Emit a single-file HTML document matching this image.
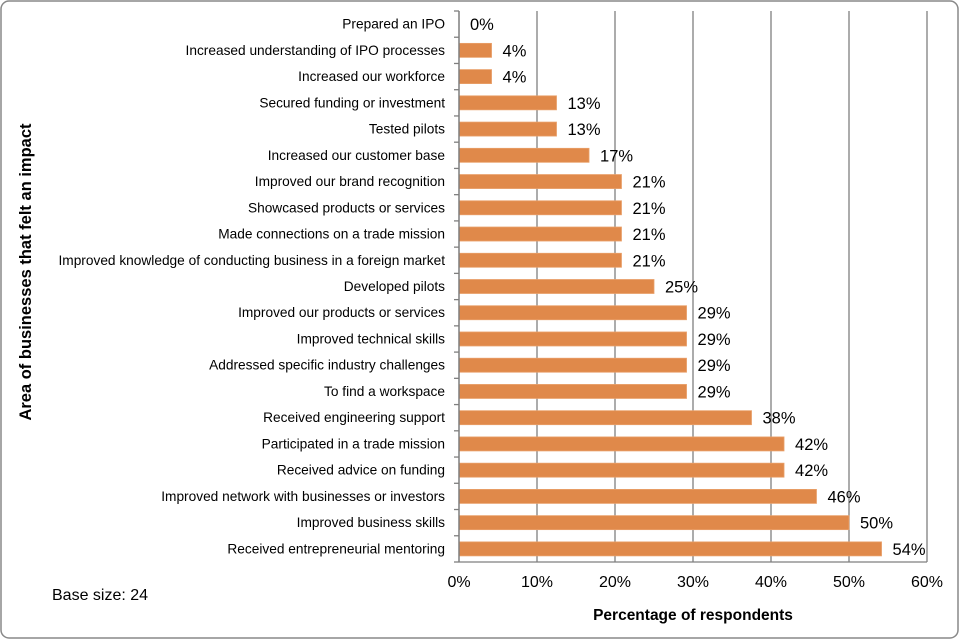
<!DOCTYPE html>
<html><head><meta charset="utf-8"><style>
html,body{margin:0;padding:0;background:#fff;}
svg{display:block;font-family:"Liberation Sans",sans-serif;}
</style></head><body>
<svg id="chart" width="960" height="640">
<rect x="1" y="1" width="957" height="637" rx="8" fill="#fff" stroke="#888" stroke-width="1.5"/>
<g id="grid"></g><g id="bars"></g><g id="labels"></g><g id="axes"></g>
<text x="31" y="272" transform="rotate(-90 31 272)" text-anchor="middle" font-size="16.5" font-weight="bold" fill="#000">Area of businesses that felt an impact</text>
<text x="693" y="620" text-anchor="middle" font-size="15.5" font-weight="bold" fill="#000">Percentage of respondents</text>
<text x="52" y="600" font-size="16" fill="#000">Base size: 24</text>
</svg>
<script>
const categories=["Prepared an IPO","Increased understanding of IPO processes","Increased our workforce","Secured funding or investment","Tested pilots","Increased our customer base","Improved our brand recognition","Showcased products or services","Made connections on a trade mission","Improved knowledge of conducting business in a foreign market","Developed pilots","Improved our products or services","Improved technical skills","Addressed specific industry challenges","To find a workspace","Received engineering support","Participated in a trade mission","Received advice on funding","Improved network with businesses or investors","Improved business skills","Received entrepreneurial mentoring"];
const values=[0,4.17,4.17,12.5,12.5,16.67,20.83,20.83,20.83,20.83,25,29.17,29.17,29.17,29.17,37.5,41.67,41.67,45.83,50,54.17];
const valueLabels=["0%","4%","4%","13%","13%","17%","21%","21%","21%","21%","25%","29%","29%","29%","29%","38%","42%","42%","46%","50%","54%"];
const xTicks=[0,10,20,30,40,50,60];
const xTickLabels=["0%","10%","20%","30%","40%","50%","60%"];
const NS="http://www.w3.org/2000/svg";
const X0=459,X1=927,T=11,B=562,xMax=60;
const x=v=>X0+(v/xMax)*(X1-X0);
const band=(B-T)/categories.length;
const y=i=>T+band*i;
function mk(tag,attrs,parent,text){const e=document.createElementNS(NS,tag);for(const k in attrs)e.setAttribute(k,attrs[k]);if(text!==undefined)e.textContent=text;parent.appendChild(e);return e;}
const g=document.getElementById('grid'),bg=document.getElementById('bars'),lg=document.getElementById('labels'),ag=document.getElementById('axes');
xTicks.forEach((t,i)=>{
 if(t>0){const l=mk('line',{x1:x(t),x2:x(t),y1:T,y2:B,stroke:'#7f7f7f','stroke-width':1.3},g);
 
 }
 const tx=mk('text',{x:x(t),y:B+25,'text-anchor':'middle','font-size':16,fill:'#000'},ag,xTickLabels[i]);
 
 
});
categories.forEach((c,i)=>{
 const cy=y(i)+band/2;
 const r=mk('rect',{x:X0,y:cy-7,width:x(values[i])-X0,height:14,fill:'#E0894A',stroke:'#E9A06A','stroke-width':0.8},bg);
 
 
 const vl=mk('text',{x:x(values[i])+11,y:cy+6,'font-size':16.5,fill:'#000'},lg,valueLabels[i]);
 
 
 const cl=mk('text',{x:X0-14,y:cy+4.5,'text-anchor':'end','font-size':13.7,fill:'#000'},lg,c);
 
 
});
for(let i=0;i<=categories.length;i++){
 const tk=mk('line',{x1:X0-5,x2:X0,y1:y(i),y2:y(i),stroke:'#7f7f7f','stroke-width':1.3},ag);
 
 
}
const ya=mk('line',{x1:X0,x2:X0,y1:T,y2:B,stroke:'#7f7f7f','stroke-width':1.5},ag);


const xa=mk('line',{x1:X0,x2:X1,y1:B,y2:B,stroke:'#7f7f7f','stroke-width':1.3},ag);


</script>
</body></html>
